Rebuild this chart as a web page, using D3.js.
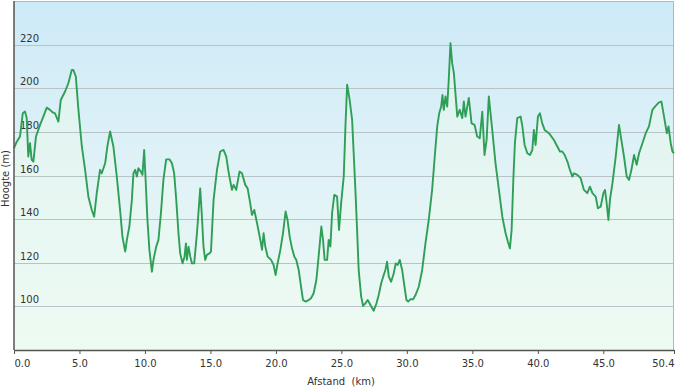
<!DOCTYPE html>
<html>
<head>
<meta charset="utf-8">
<script src="https://cdn.jsdelivr.net/npm/d3@7"></script>
<style>
  html, body { margin: 0; padding: 0; background: #ffffff; }
  svg { display: block; }
  text { font-family: "DejaVu Sans", Verdana, sans-serif; }
</style>
</head>
<body>
<svg id="chart" width="675" height="390"></svg>
<script>
// Distance (km)
const distance = [
  0, 0.21, 0.46, 0.67, 0.84, 0.97, 1.09, 1.22, 1.35, 1.48, 1.68, 1.99, 2.24, 2.50, 2.75, 2.96, 3.13, 3.39, 3.57, 3.90,
  4.15, 4.41, 4.53, 4.72, 4.92, 5.18, 5.43, 5.68, 5.94, 6.12, 6.32, 6.57, 6.70, 6.96, 7.13, 7.34, 7.59, 7.85, 8.10, 8.28,
  8.49, 8.62, 8.81, 9.00, 9.12, 9.25, 9.38, 9.50, 9.69, 9.81, 9.94, 10.04, 10.19, 10.34, 10.53, 10.65, 10.86, 11.03, 11.22, 11.41,
  11.62, 11.87, 12.06, 12.23, 12.39, 12.56, 12.69, 12.87, 13.02, 13.13, 13.20, 13.33, 13.46, 13.59, 13.76, 13.97, 14.12, 14.22, 14.35, 14.47,
  14.60, 14.73, 14.93, 15.04, 15.24, 15.50, 15.75, 16.00, 16.21, 16.38, 16.64, 16.77, 16.97, 17.22, 17.41, 17.66, 17.84, 18.04, 18.17, 18.35,
  18.56, 18.81, 18.94, 19.06, 19.19, 19.37, 19.63, 19.82, 19.98, 20.13, 20.34, 20.54, 20.74, 20.89, 21.05, 21.23, 21.41, 21.56, 21.74, 21.92,
  22.07, 22.25, 22.50, 22.68, 22.88, 23.09, 23.26, 23.47, 23.60, 23.72, 23.91, 24.03, 24.16, 24.29, 24.46, 24.67, 24.82, 24.98, 25.08, 25.18,
  25.31, 25.44, 25.63, 25.82, 25.94, 26.07, 26.20, 26.32, 26.51, 26.66, 26.83, 27.01, 27.22, 27.47, 27.68, 27.85, 28.04, 28.19, 28.36, 28.49,
  28.62, 28.80, 29.00, 29.15, 29.30, 29.46, 29.64, 29.82, 29.97, 30.10, 30.28, 30.48, 30.66, 30.91, 31.17, 31.42, 31.67, 31.93, 32.13, 32.32,
  32.47, 32.62, 32.72, 32.82, 32.95, 33.08, 33.20, 33.33, 33.46, 33.59, 33.85, 34.04, 34.23, 34.35, 34.48, 34.73, 34.94, 35.17, 35.37, 35.57,
  35.76, 35.93, 36.09, 36.26, 36.52, 36.77, 37.03, 37.29, 37.54, 37.71, 37.87, 38.00, 38.13, 38.25, 38.43, 38.69, 38.82, 38.99, 39.20, 39.40,
  39.58, 39.70, 39.83, 40.01, 40.16, 40.34, 40.52, 40.85, 41.23, 41.49, 41.69, 41.87, 42.05, 42.26, 42.45, 42.64, 42.76, 43.02, 43.27, 43.52,
  43.78, 43.98, 44.17, 44.42, 44.59, 44.80, 45.01, 45.13, 45.26, 45.39, 45.51, 45.70, 45.95, 46.20, 46.38, 46.58, 46.79, 46.97, 47.15, 47.35,
  47.55, 47.73, 47.99, 48.24, 48.49, 48.75, 49.00, 49.23, 49.44, 49.64, 49.85, 49.98, 50.15, 50.28, 50.4
];

// Elevation (m)
const elevation = [
  172.5, 175.5, 177.9, 188.5, 189.3, 186.3, 168.7, 174.8, 167.2, 166.4, 177.9, 183.2, 187.0, 191.1, 190.1, 188.9, 188.5, 184.7, 194.6, 198.5,
  202.3, 208.4, 208.4, 205.4, 190.1, 173.3, 162.6, 150.3, 144.2, 141.1, 151.9, 162.6, 161.0, 165.6, 173.3, 180.2, 173.3, 159.5, 144.2, 132.0,
  125.1, 130.5, 136.6, 148.8, 161.0, 162.6, 159.5, 163.3, 161.8, 160.3, 171.7, 159.5, 139.6, 125.9, 115.9, 121.3, 127.4, 130.5, 142.7, 158.0,
  167.4, 167.4, 165.6, 161.0, 148.8, 133.5, 124.3, 119.7, 122.8, 128.9, 121.3, 127.4, 122.8, 119.7, 119.7, 133.5, 145.7, 154.1, 141.1, 127.4,
  121.3, 123.6, 124.3, 125.1, 148.8, 162.6, 171.0, 171.7, 168.7, 161.8, 153.4, 155.7, 153.4, 161.8, 161.0, 155.7, 154.1, 147.2, 141.9, 144.2,
  138.1, 130.5, 125.9, 133.5, 127.4, 122.8, 121.3, 119.0, 114.4, 119.7, 125.9, 133.5, 143.5, 139.6, 132.0, 126.6, 122.8, 121.3, 116.7, 109.0,
  102.9, 102.2, 102.9, 103.7, 106.0, 112.1, 122.8, 136.6, 130.5, 121.3, 121.3, 130.5, 127.4, 142.7, 151.1, 150.3, 135.0, 147.2, 153.4, 159.5,
  182.5, 201.6, 194.7, 185.5, 170.2, 153.4, 135.0, 116.7, 104.5, 100.2, 101.4, 102.9, 100.6, 98.0, 101.4, 105.2, 110.6, 113.6, 116.7, 120.5,
  113.6, 111.3, 115.2, 119.7, 119.0, 121.3, 116.7, 109.0, 102.9, 102.2, 103.3, 103.3, 105.2, 109.0, 116.7, 128.9, 139.6, 153.4, 168.7, 182.5,
  188.5, 191.6, 196.9, 190.1, 196.2, 191.6, 203.9, 220.7, 211.5, 206.9, 187.0, 190.1, 186.3, 193.9, 187.0, 195.6, 183.9, 183.2, 177.9, 177.1,
  189.3, 169.4, 176.3, 196.2, 180.9, 165.6, 153.4, 141.1, 133.5, 129.7, 126.6, 135.0, 158.0, 174.8, 186.3, 187.0, 182.5, 174.0, 170.2, 169.4,
  171.7, 180.9, 174.0, 187.0, 188.5, 183.9, 180.9, 179.4, 176.3, 173.3, 171.0, 171.0, 169.4, 166.4, 162.6, 159.5, 161.0, 160.3, 158.8, 153.4,
  151.9, 154.9, 151.9, 150.3, 145.0, 145.7, 151.9, 153.4, 147.2, 139.6, 148.8, 156.5, 168.7, 183.2, 176.3, 168.7, 159.5, 158.0, 162.6, 169.4,
  164.9, 170.2, 174.8, 179.4, 182.5, 190.1, 191.9, 193.4, 193.9, 187.0, 179.4, 182.5, 174.8, 171.0, 170.2
];

const yTicks = [100, 120, 140, 160, 180, 200, 220];
const xTicks = [0, 5, 10, 15, 20, 25, 30, 35, 40, 45, 50.4];
const xTickLabels = ["0.0", "5.0", "10.0", "15.0", "20.0", "25.0", "30.0", "35.0", "40.0", "45.0", "50.4"];
const yDomain = [80, 240];
const xDomain = [0, 50.4];

(function () {
const data = distance.map((d, i) => ({ d, e: elevation[i] }));

const svg = d3.select("#chart");
const pL = 14, pR = 674, pT = 1, pB = 350;

const x = d3.scaleLinear().domain(xDomain).range([pL, pR]);
const y = d3.scaleLinear().domain(yDomain).range([pB, pT]);

const defs = svg.append("defs");
const bg = defs.append("linearGradient").attr("id", "bg").attr("x1", 0).attr("y1", 0).attr("x2", 0).attr("y2", 1);
bg.append("stop").attr("offset", "0%").attr("stop-color", "#cdeaf7");
bg.append("stop").attr("offset", "55%").attr("stop-color", "#e2f3f7");
bg.append("stop").attr("offset", "100%").attr("stop-color", "#ecfaf2");

const ag = defs.append("linearGradient").attr("id", "ag").attr("x1", 0).attr("y1", 0).attr("x2", 0).attr("y2", 1);
ag.append("stop").attr("offset", "0%").attr("stop-color", "#e6f7ea").attr("stop-opacity", 0.55);
ag.append("stop").attr("offset", "100%").attr("stop-color", "#effbf3").attr("stop-opacity", 0.6);

svg.append("rect")
  .attr("x", pL).attr("y", pT)
  .attr("width", pR - pL).attr("height", pB - pT)
  .attr("fill", "url(#bg)");

svg.append("path")
  .datum(data)
  .attr("fill", "url(#ag)")
  .attr("d", d3.area().x(p => x(p.d)).y0(pB).y1(p => y(p.e)));

svg.append("g")
  .selectAll("line")
  .data(yTicks)
  .join("line")
  .attr("x1", pL).attr("x2", pR)
  .attr("y1", d => Math.round(y(d)) + 0.5).attr("y2", d => Math.round(y(d)) + 0.5)
  .attr("stroke", "#b9c3c6").attr("stroke-width", 1);

svg.append("g")
  .selectAll("text")
  .data(yTicks)
  .join("text")
  .attr("x", pL + 6)
  .attr("y", d => y(d) - 3)
  .attr("font-size", 10)
  .attr("fill", "#333")
  .text(d => d);

svg.append("line").attr("x1", pL).attr("x2", pR).attr("y1", pT + 0.5).attr("y2", pT + 0.5)
  .attr("stroke", "#b0b8bc").attr("stroke-width", 1);
svg.append("line").attr("x1", pR - 0.5).attr("x2", pR - 0.5).attr("y1", pT).attr("y2", pB)
  .attr("stroke", "#b0b8bc").attr("stroke-width", 1);

svg.append("path")
  .datum(data)
  .attr("fill", "none")
  .attr("stroke", "#2f9f57")
  .attr("stroke-width", 1.9)
  .attr("stroke-linejoin", "round")
  .attr("d", d3.line().x(p => x(p.d)).y(p => y(p.e)));

svg.append("line").attr("x1", pL).attr("x2", pL).attr("y1", pT).attr("y2", pB)
  .attr("stroke", "#555").attr("stroke-width", 1.5);

const xAxis = d3.axisBottom(x)
  .tickValues(xTicks)
  .tickFormat((d, i) => xTickLabels[i])
  .tickSize(4)
  .tickSizeOuter(0)
  .tickPadding(6);
const gx = svg.append("g").attr("transform", `translate(0,${pB})`).call(xAxis);
gx.select(".domain").attr("stroke", "#555").attr("stroke-width", 1.5);
gx.selectAll(".tick line").attr("stroke", "#555");
gx.selectAll(".tick text").attr("font-size", 10).attr("fill", "#333")
  .attr("font-family", "'DejaVu Sans', Verdana, sans-serif")
  .attr("text-anchor", (d, i) => i === 0 ? "start" : (i === xTicks.length - 1 ? "end" : "middle"));

svg.append("text")
  .attr("x", (pL + pR) / 2 - 3)
  .attr("y", 385)
  .attr("text-anchor", "middle")
  .attr("font-size", 10)
  .attr("fill", "#333")
  .attr("xml:space", "preserve")
  .text("Afstand  (km)");

svg.append("text")
  .attr("transform", `translate(9,${(pT + pB) / 2 + 3}) rotate(-90)`)
  .attr("text-anchor", "middle")
  .attr("font-size", 10)
  .attr("fill", "#333")
  .text("Hoogte (m)");
})();
</script>
</body>
</html>
